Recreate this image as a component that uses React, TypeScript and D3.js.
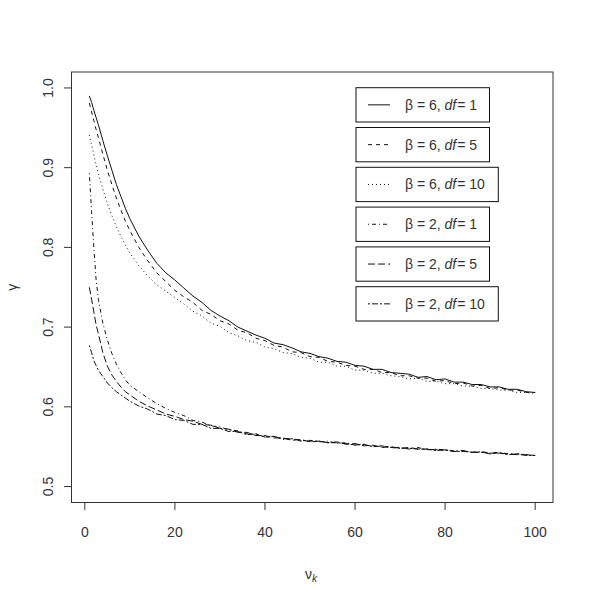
import React from "react";
import * as d3 from "d3";

const xs = [1, 1.5, 2, 2.5, 3, 4, 5, 6, 7, 8, 9, 10,
  12, 14, 16, 18, 20, 22, 24, 26, 28, 30, 32, 34, 36, 38, 40, 42, 44, 46, 48, 50,
  52, 54, 56, 58, 60, 62, 64, 66, 68, 70, 72, 74, 76, 78, 80, 82, 84, 86, 88, 90,
  92, 94, 96, 98, 100];

const b6df1 = [0.990, 0.982, 0.972, 0.963, 0.954, 0.934, 0.915, 0.897, 0.879, 0.864, 0.849, 0.836,
  0.814, 0.796, 0.780, 0.768, 0.759, 0.749, 0.739, 0.731, 0.721, 0.714, 0.708, 0.700, 0.695, 0.690,
  0.686, 0.680, 0.678, 0.674, 0.669, 0.667, 0.663, 0.661, 0.657, 0.656, 0.652, 0.651, 0.647, 0.647,
  0.643, 0.642, 0.641, 0.637, 0.638, 0.634, 0.635, 0.631, 0.631, 0.628, 0.628, 0.625, 0.625, 0.622,
  0.622, 0.619, 0.618];

const b6df5 = [0.981, 0.970, 0.959, 0.948, 0.938, 0.917, 0.897, 0.879, 0.862, 0.847, 0.833, 0.821,
  0.800, 0.783, 0.768, 0.757, 0.746, 0.738, 0.731, 0.721, 0.716, 0.708, 0.704, 0.696, 0.693, 0.686,
  0.683, 0.677, 0.675, 0.669, 0.668, 0.663, 0.662, 0.657, 0.656, 0.652, 0.651, 0.647, 0.647, 0.643,
  0.643, 0.639, 0.639, 0.636, 0.636, 0.632, 0.633, 0.629, 0.630, 0.626, 0.627, 0.623, 0.624, 0.621,
  0.621, 0.618, 0.618];

const b6df10 = [0.941, 0.928, 0.916, 0.904, 0.893, 0.873, 0.855, 0.840, 0.826, 0.814, 0.803, 0.793,
  0.777, 0.764, 0.753, 0.745, 0.737, 0.729, 0.720, 0.714, 0.705, 0.701, 0.693, 0.689, 0.683, 0.681,
  0.675, 0.673, 0.668, 0.667, 0.662, 0.661, 0.656, 0.656, 0.651, 0.651, 0.646, 0.646, 0.642, 0.642,
  0.639, 0.638, 0.635, 0.636, 0.632, 0.632, 0.629, 0.629, 0.626, 0.626, 0.623, 0.623, 0.621, 0.621,
  0.618, 0.618, 0.617];

const b2df1 = [0.893, 0.845, 0.800, 0.760, 0.735, 0.705, 0.684, 0.667, 0.654, 0.643, 0.634, 0.627,
  0.619, 0.611, 0.604, 0.598, 0.593, 0.589, 0.583, 0.581, 0.576, 0.575, 0.571, 0.570, 0.566, 0.566,
  0.562, 0.563, 0.559, 0.560, 0.557, 0.558, 0.556, 0.557, 0.554, 0.555, 0.552, 0.553, 0.550, 0.551,
  0.549, 0.549, 0.547, 0.549, 0.546, 0.547, 0.546, 0.545, 0.545, 0.543, 0.544, 0.542, 0.543, 0.541,
  0.541, 0.540, 0.539];

const b2df5 = [0.750, 0.735, 0.719, 0.703, 0.692, 0.668, 0.651, 0.640, 0.632, 0.625, 0.619, 0.615,
  0.607, 0.601, 0.596, 0.591, 0.588, 0.584, 0.582, 0.578, 0.577, 0.573, 0.572, 0.568, 0.568, 0.564,
  0.564, 0.561, 0.561, 0.558, 0.559, 0.556, 0.557, 0.555, 0.556, 0.553, 0.554, 0.551, 0.552, 0.549,
  0.550, 0.548, 0.549, 0.547, 0.547, 0.546, 0.546, 0.544, 0.545, 0.543, 0.543, 0.542, 0.542, 0.541,
  0.540, 0.540, 0.539];

const b2df10 = [0.677, 0.668, 0.658, 0.652, 0.646, 0.638, 0.630, 0.624, 0.619, 0.615, 0.611, 0.607,
  0.601, 0.597, 0.591, 0.589, 0.584, 0.583, 0.578, 0.578, 0.573, 0.573, 0.569, 0.569, 0.565, 0.566,
  0.562, 0.563, 0.560, 0.560, 0.558, 0.557, 0.557, 0.555, 0.555, 0.554, 0.552, 0.553, 0.550, 0.551,
  0.549, 0.548, 0.548, 0.547, 0.547, 0.545, 0.546, 0.544, 0.544, 0.543, 0.543, 0.541, 0.542, 0.540,
  0.541, 0.539, 0.539];

const betas = [6, 6, 6, 2, 2, 2];
const dfs = [1, 5, 10, 1, 5, 10];
const seriesValues = [b6df1, b6df5, b6df10, b2df1, b2df5, b2df10];
const dashes = ["none", "4,4", "1,3", "1,3,4,3", "7,3", "2,2,6,2"];

const xTicks = [0, 20, 40, 60, 80, 100];
const yTicks = [0.5, 0.6, 0.7, 0.8, 0.9, 1.0];

const FONT = "'Liberation Sans', Arial, Helvetica, sans-serif";

export default function App() {
  const W = 591, H = 591;
  const x = d3.scaleLinear().domain([-2.96, 103.96]).range([71.5, 553]);
  const y = d3.scaleLinear().domain([0.48, 1.02]).range([502.5, 72]);
  const line = d3.line<[number, number]>().x(d => x(d[0])).y(d => y(d[1]));

  const legX = 356;
  const legTop = 87.7;
  const legStep = 39.8;
  const legH = 34.3;

  return (
    <svg width={W} height={H} style={{ position: "fixed", left: 0, top: 0, background: "#fff" }}
      fontFamily={FONT}>
      <rect x={0} y={0} width={W} height={H} fill="#fff" />
      {seriesValues.map((vals, i) => (
        <path key={i} d={line(xs.map((xv, j) => [xv, vals[j]]) as [number, number][]) || ""}
          fill="none" stroke="#111" strokeWidth={1} strokeDasharray={dashes[i]} />
      ))}
      {/* plot box */}
      <rect x={x.range()[0]} y={y.range()[1]} width={x.range()[1] - x.range()[0]}
        height={y.range()[0] - y.range()[1]} fill="none" stroke="#333" strokeWidth={1} />
      {/* x axis */}
      {xTicks.map(t => (
        <g key={t}>
          <line x1={x(t)} x2={x(t)} y1={y.range()[0]} y2={y.range()[0] + 7.5} stroke="#333" />
          <text x={x(t)} y={536.5} fontSize={14} textAnchor="middle" fill="#333">{t}</text>
        </g>
      ))}
      {/* y axis */}
      {yTicks.map(t => (
        <g key={t}>
          <line x1={x.range()[0]} x2={x.range()[0] - 7.5} y1={y(t)} y2={y(t)} stroke="#333" />
          <text transform={`translate(52.5,${y(t)}) rotate(-90)`} fontSize={14} textAnchor="middle" fill="#333">
            {t.toFixed(1)}
          </text>
        </g>
      ))}
      {/* axis labels */}
      <text x={311} y={579} fontSize={14} textAnchor="middle" fill="#333">
        ν<tspan fontSize={10} dy={3} fontStyle="italic">k</tspan>
      </text>
      <text transform={`translate(17,${(y.range()[0] + y.range()[1]) / 2}) rotate(-90)`} fontSize={14}
        textAnchor="middle" fill="#333">γ</text>
      {/* legends */}
      {betas.map((b, i) => {
        const top = legTop + i * legStep;
        const cy = top + legH / 2;
        const w = dfs[i] >= 10 ? 142.3 : 133.5;
        return (
          <g key={i}>
            <rect x={legX} y={top} width={w} height={legH} fill="#fff" stroke="#111" strokeWidth={1} />
            <line x1={368} x2={390} y1={cy} y2={cy} stroke="#111" strokeDasharray={dashes[i]} />
            <text x={405} y={cy + 5} fontSize={14} fill="#333">
              {`β = ${b}, `}<tspan fontStyle="italic">df</tspan><tspan dx={1}>{`= ${dfs[i]}`}</tspan>
            </text>
          </g>
        );
      })}
    </svg>
  );
}
